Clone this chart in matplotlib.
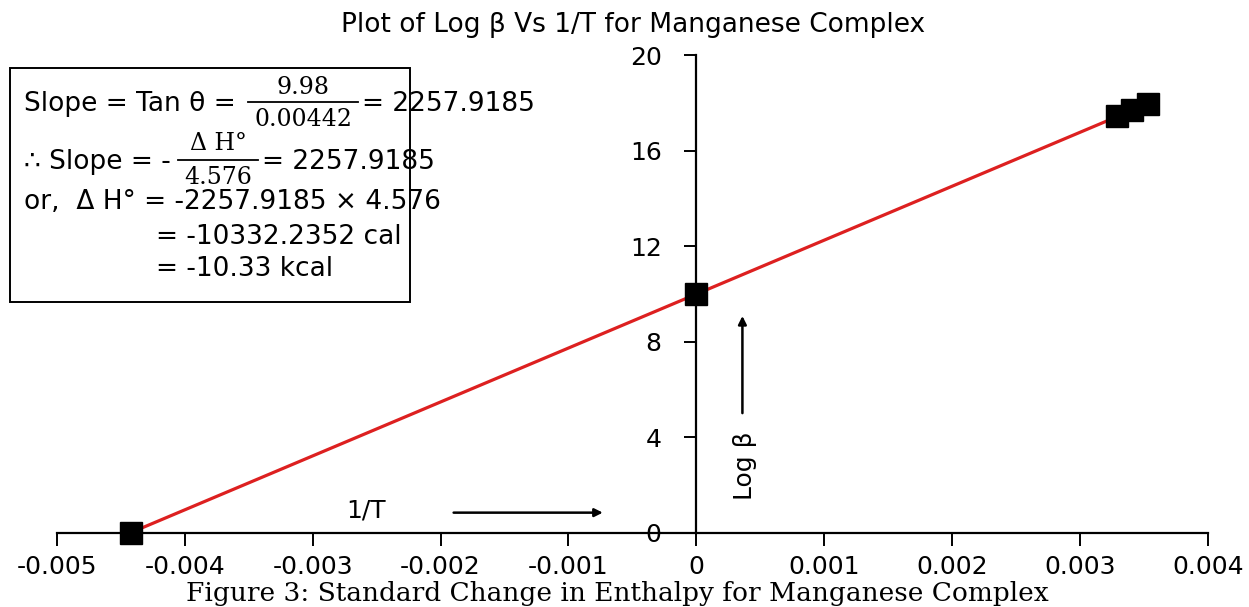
import matplotlib
matplotlib.use('agg')
import matplotlib.pyplot as plt

# data
inv_T = [-0.00442, 0.0, 0.00329, 0.00341, 0.00353]
log_beta = [0.0, 10.0, 17.45, 17.72, 17.97]
x_ticks = [-0.005, -0.004, -0.003, -0.002, -0.001, 0, 0.001, 0.002, 0.003, 0.004]
x_labels = ['-0.005', '-0.004', '-0.003', '-0.002', '-0.001', '0', '0.001', '0.002', '0.003', '0.004']
y_ticks = [0, 4, 8, 12, 16, 20]
slope = 2257.9185
intercept = 10.0

sans = ['DejaVu Sans']
serif = ['DejaVu Serif']

fig = plt.figure(figsize=(12.49, 6.07), dpi=100)
ax = fig.add_axes([0.0456, 0.122, 0.9215, 0.787])

# trend line
xs = [inv_T[0], inv_T[-1]]
ax.plot(xs, [slope * v + intercept for v in xs], color='#dd2020', lw=2.3, zorder=2)
ax.plot(inv_T, log_beta, 's', color='black', ms=15.5, zorder=3, clip_on=False)

ax.set_xlim(-0.005, 0.004)
ax.set_ylim(0, 20)
ax.spines['left'].set_position(('data', 0))
ax.spines['bottom'].set_position(('data', 0))
ax.spines['top'].set_visible(False)
ax.spines['right'].set_visible(False)
for s in ['left', 'bottom']:
    ax.spines[s].set_linewidth(1.6)
ax.set_xticks(x_ticks)
ax.set_xticklabels(x_labels, family=sans, fontsize=18)
ax.set_yticks(y_ticks)
ax.set_yticklabels([str(v) for v in y_ticks], family=sans, fontsize=18)
ax.tick_params(axis='x', direction='out', length=9, width=1.4, pad=7)
ax.tick_params(axis='y', direction='out', length=9, width=1.4, pad=16)

fig.text(0.507, 0.958, 'Plot of Log β Vs 1/T for Manganese Complex',
         ha='center', va='center', fontsize=19, family=sans)
fig.text(0.494, 1 - 593 / 607.0, 'Figure 3: Standard Change in Enthalpy for Manganese Complex',
         ha='center', va='center', fontsize=19, family=serif)

# 1/T arrow and Log beta arrow
ax.text(-0.00258, 0.95, '1/T', ha='center', va='center', fontsize=18, family=sans)
ax.annotate('', xy=(-0.00071, 0.85), xytext=(-0.00192, 0.85),
            arrowprops=dict(arrowstyle='-|>', color='black', lw=1.8, mutation_scale=12))
ax.text(0.00038, 2.8, 'Log β', ha='center', va='center', rotation=90, fontsize=18, family=sans)
ax.annotate('', xy=(0.00036, 9.2), xytext=(0.00036, 4.9),
            arrowprops=dict(arrowstyle='-|>', color='black', lw=1.8, mutation_scale=12))

# info box
def fx(px):
    return px / 1249.0

def fy(py):
    return 1 - py / 607.0

box = plt.Rectangle((fx(10), fy(302)), fx(410) - fx(10), fy(68) - fy(302),
                    transform=fig.transFigure, fill=False, lw=1.4, color='black')
fig.patches.append(box)

fs = 19
fig.text(fx(24), fy(104), 'Slope = Tan θ = ', ha='left', va='center', fontsize=fs, family=sans)
fig.text(fx(303), fy(87), '9.98', ha='center', va='center', fontsize=17, family=serif)
fig.lines.append(plt.Line2D([fx(248), fx(358)], [fy(102), fy(102)], transform=fig.transFigure, color='black', lw=1.3))
fig.text(fx(303), fy(120), '0.00442', ha='center', va='center', fontsize=17, family=serif)
fig.text(fx(362), fy(104), '= 2257.9185', ha='left', va='center', fontsize=fs, family=sans)

fig.text(fx(24), fy(162), '∴ Slope = - ', ha='left', va='center', fontsize=fs, family=sans)
fig.text(fx(218), fy(144), 'Δ H°', ha='center', va='center', fontsize=17, family=serif)
fig.lines.append(plt.Line2D([fx(178), fx(258)], [fy(160), fy(160)], transform=fig.transFigure, color='black', lw=1.3))
fig.text(fx(218), fy(177), '4.576', ha='center', va='center', fontsize=17, family=serif)
fig.text(fx(262), fy(162), '= 2257.9185', ha='left', va='center', fontsize=fs, family=sans)

fig.text(fx(24), fy(202), 'or,  Δ H° = -2257.9185 × 4.576', ha='left', va='center', fontsize=fs, family=sans)
fig.text(fx(156), fy(237), '= -10332.2352 cal', ha='left', va='center', fontsize=fs, family=sans)
fig.text(fx(156), fy(269), '= -10.33 kcal', ha='left', va='center', fontsize=fs, family=sans)

fig.savefig('out.png', dpi=100)
